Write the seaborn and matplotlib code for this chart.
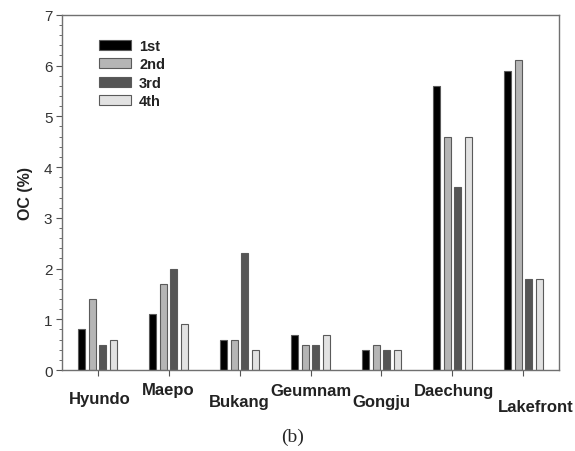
import matplotlib
matplotlib.use("Agg")
import matplotlib.pyplot as plt
import matplotlib.transforms as mtransforms
import seaborn as sns
import pandas as pd
from matplotlib.ticker import MultipleLocator

sites = ["Hyundo", "Maepo", "Bukang", "Geumnam", "Gongju", "Daechung", "Lakefront"]
rounds = ["1st", "2nd", "3rd", "4th"]
oc_1st = [0.8, 1.1, 0.6, 0.7, 0.4, 5.6, 5.9]
oc_2nd = [1.4, 1.7, 0.6, 0.5, 0.5, 4.6, 6.1]
oc_3rd = [0.5, 2.0, 2.3, 0.5, 0.4, 3.6, 1.8]
oc_4th = [0.6, 0.9, 0.4, 0.7, 0.4, 4.6, 1.8]
yticks = [0, 1, 2, 3, 4, 5, 6, 7]

# staggered label offsets (style only, in points)
label_pads = [11.3, 4.8, 13.2, 5.5, 13.2, 5.5, 16.8]
label_dx_in = [0.02, 0, 0, 0, 0, 0.02, 0.12]

rows = []
for r, vals in zip(rounds, [oc_1st, oc_2nd, oc_3rd, oc_4th]):
    for s, v in zip(sites, vals):
        rows.append({"site": s, "round": r, "oc": v})
df = pd.DataFrame(rows)

sns.set_style("white")
plt.rcParams["font.family"] = ["Liberation Sans", "DejaVu Sans"]

fig = plt.figure(figsize=(5.75, 4.52), dpi=100)
ax = fig.add_axes([0.108, 0.179, 0.864, 0.786])

palette = {"1st": "#000000", "2nd": "#b5b5b5", "3rd": "#555555", "4th": "#e2e2e2"}
sns.barplot(data=df, x="site", y="oc", hue="round", order=sites, hue_order=rounds,
            palette=palette, width=0.6, gap=0.33, edgecolor="#5a5a5a", linewidth=0.8,
            saturation=1, ax=ax, errorbar=None)

ax.set_xlim(-0.5, 6.5)
ax.set_ylim(0, 7)
ax.set_yticks(yticks)
ax.yaxis.set_minor_locator(MultipleLocator(0.2))
ax.tick_params(axis="y", which="major", direction="out", length=4, width=0.8,
               color="#555555", labelsize=11, labelcolor="#333333", left=True, pad=3)
ax.tick_params(axis="y", which="minor", direction="out", length=2.5, width=0.6,
               color="#555555", left=True)
ax.tick_params(axis="x", which="major", direction="out", length=4, width=0.8,
               color="#555555", bottom=True)
for t, p in zip(ax.xaxis.get_major_ticks(), label_pads):
    t.set_pad(p)
for lab, dx in zip(ax.get_xticklabels(), label_dx_in):
    lab.set_fontweight("bold")
    lab.set_fontsize(12)
    lab.set_color("#222222")
    if dx:
        lab.set_transform(lab.get_transform() +
                          mtransforms.ScaledTranslation(dx, 0, fig.dpi_scale_trans))

for sp in ax.spines.values():
    sp.set_visible(True)
    sp.set_color("#707070")
    sp.set_linewidth(1.0)

ax.set_xlabel("")
ax.set_ylabel("OC (%)", fontsize=11.5, fontweight="bold", color="#222222", labelpad=8)

leg = ax.legend(loc="upper left", bbox_to_anchor=(0.0744, 0.932), frameon=False,
                borderpad=0, borderaxespad=0,
                handlelength=2.2, handleheight=0.7, labelspacing=0.3,
                prop={"weight": "bold", "size": 10.5}, handletextpad=0.55)
for txt in leg.get_texts():
    txt.set_color("#222222")

fig.text(0.509, 0.033, "(b)", ha="center", va="center", fontsize=14,
         family=["Liberation Serif", "DejaVu Serif"])

fig.savefig("out.png", dpi=100)
